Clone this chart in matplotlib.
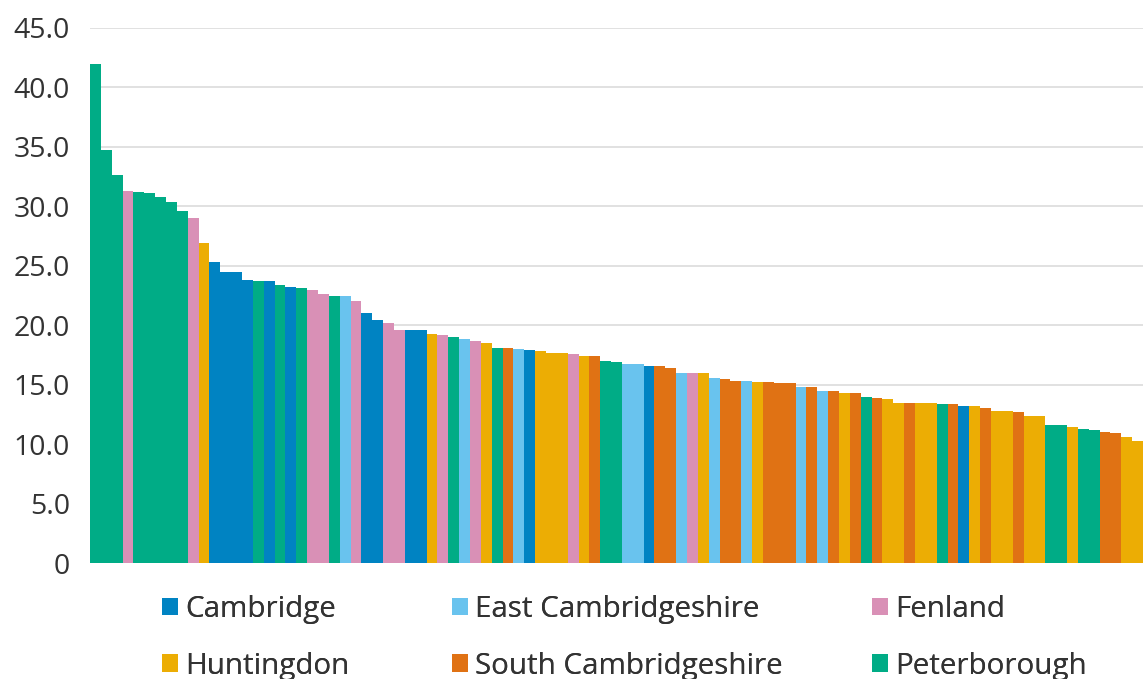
import numpy as np
import matplotlib
matplotlib.use("Agg")
import matplotlib.pyplot as plt
from matplotlib.patches import Patch
from matplotlib.ticker import FuncFormatter

plt.rcParams['font.family'] = ['Open Sans', 'DejaVu Sans']

# district order for the legend
districts = ["Cambridge", "East Cambridgeshire", "Fenland",
             "Huntingdon", "South Cambridgeshire", "Peterborough"]
colours = {"Cambridge": "#0083C2", "East Cambridgeshire": "#69C3EE",
           "Fenland": "#D990B6", "Huntingdon": "#ECAD04",
           "South Cambridgeshire": "#E07214", "Peterborough": "#00AC86"}

# one bar per ward, sorted high to low
values = [42.0, 34.7, 32.6, 31.3, 31.2, 31.1, 30.8, 30.4, 29.6, 29.0,
          26.9, 25.3, 24.5, 24.5, 23.8, 23.7, 23.7, 23.4, 23.2, 23.1,
          23.0, 22.6, 22.5, 22.5, 22.0, 21.0, 20.4, 20.2, 19.6, 19.6,
          19.6, 19.3, 19.2, 19.0, 18.8, 18.7, 18.5, 18.1, 18.1, 18.0,
          17.9, 17.8, 17.7, 17.7, 17.6, 17.4, 17.4, 17.0, 16.9, 16.7,
          16.7, 16.6, 16.6, 16.4, 16.0, 16.0, 16.0, 15.6, 15.5, 15.3,
          15.3, 15.2, 15.2, 15.1, 15.1, 14.8, 14.8, 14.5, 14.5, 14.3,
          14.3, 14.0, 13.9, 13.8, 13.5, 13.5, 13.5, 13.5, 13.4, 13.4,
          13.2, 13.2, 13.0, 12.8, 12.8, 12.7, 12.4, 12.4, 11.6, 11.6,
          11.4, 11.3, 11.2, 11.0, 10.9, 10.6, 10.3]

# P=Peterborough, F=Fenland, H=Huntingdon, C=Cambridge, E=East Cambs, S=South Cambs
codes = ("PPPFPPPPPF"
         "HCCCCPCPCP"
         "FFPEFCCFFC"
         "CHFPEFHPSE"
         "CHHHFHSPPE"
         "ECSSEFHESS"
         "EHSSSESESH"
         "SPSHHSHHPS"
         "CHSHHSHHPP"
         "HPPSSHH")
code_names = {"C": "Cambridge", "E": "East Cambridgeshire", "F": "Fenland",
              "H": "Huntingdon", "S": "South Cambridgeshire", "P": "Peterborough"}
ward_district = [code_names[c] for c in codes]

fig = plt.figure(figsize=(11.43, 6.79), dpi=100)
ax = fig.add_axes([90/1143, 1 - 563/679, 1 - 90/1143, (563 - 28)/679])

x = np.arange(len(values))
ax.bar(x, values, width=1.0, color=[colours[d] for d in ward_district],
       linewidth=0, zorder=3)

ax.set_xlim(-0.5, len(values) - 0.5)
ax.set_ylim(0, 45)
ax.set_yticks(np.arange(0, 46, 5))
ax.yaxis.set_major_formatter(FuncFormatter(lambda v, p: "0" if v == 0 else "%.1f" % v))
ax.set_xticks([])
ax.tick_params(axis="y", length=0, pad=14.5, labelsize=20.5, labelcolor="#333333")
ax.grid(axis="y", color="#d9d9d9", linewidth=1.1, zorder=0)
for s in ax.spines.values():
    s.set_visible(False)

# legend: three columns, two rows
legend_cols = [["Cambridge", "Huntingdon"],
               ["East Cambridgeshire", "South Cambridgeshire"],
               ["Fenland", "Peterborough"]]
col_x = [162, 452, 872]
for names, cx in zip(legend_cols, col_x):
    handles = [Patch(facecolor=colours[d], edgecolor="none", label=d) for d in names]
    leg = fig.legend(handles=handles, loc="upper left",
                     bbox_to_anchor=(cx/1143, 1 - 595/679), frameon=False,
                     prop={"size": 21.3}, labelcolor="#333333",
                     handlelength=0.54, handleheight=0.54, handletextpad=0.25,
                     labelspacing=0.93, borderpad=0, borderaxespad=0)
    fig.add_artist(leg)

fig.savefig("out.png", dpi=100)
